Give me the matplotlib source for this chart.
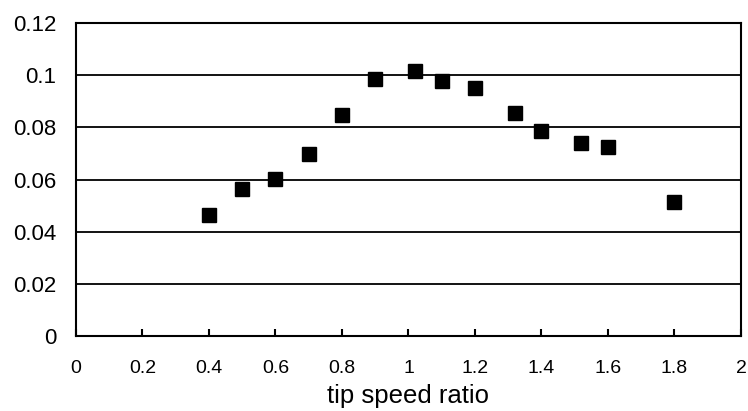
import matplotlib
matplotlib.use("Agg")
import matplotlib.pyplot as plt

plt.rcParams['font.family'] = ['Liberation Sans', 'DejaVu Sans']

tsr = [0.4, 0.5, 0.6, 0.7, 0.8, 0.9, 1.02, 1.1, 1.2, 1.32, 1.4, 1.52, 1.6, 1.8]
cp = [0.0464, 0.0563, 0.0602, 0.0699, 0.0846, 0.0984, 0.1015, 0.0979, 0.0952,
      0.0856, 0.0786, 0.0739, 0.0726, 0.0514]
xticks = [0, 0.2, 0.4, 0.6, 0.8, 1, 1.2, 1.4, 1.6, 1.8, 2]
xticklabels = ['0', '0.2', '0.4', '0.6', '0.8', '1', '1.2', '1.4', '1.6', '1.8', '2']
yticks = [0, 0.02, 0.04, 0.06, 0.08, 0.1, 0.12]
yticklabels = ['0', '0.02', '0.04', '0.06', '0.08', '0.1', '0.12']

fig = plt.figure(figsize=(7.48, 4.11), dpi=100)
ax = fig.add_axes([0.1016, 0.1825, 0.889, 0.7615])

ax.plot(tsr, cp, linestyle='none', marker='s', markersize=10.5, color='black', zorder=3)

ax.set_xlim(0, 2)
ax.set_ylim(0, 0.12)
ax.set_xticks(xticks)
ax.set_xticklabels(xticklabels, fontsize=14)
ax.set_yticks(yticks)
ax.set_yticklabels(yticklabels, fontsize=16)
ax.tick_params(axis='x', direction='in', length=5, width=1.5, pad=17)
ax.tick_params(axis='y', length=0, pad=14)
ax.yaxis.grid(True, color='black', linewidth=1.3)
ax.set_axisbelow(True)
for s in ax.spines.values():
    s.set_linewidth(1.5)
    s.set_color('black')
ax.set_xlabel('tip speed ratio', fontsize=18.5, labelpad=5.5)

fig.savefig('out.png', dpi=100)
